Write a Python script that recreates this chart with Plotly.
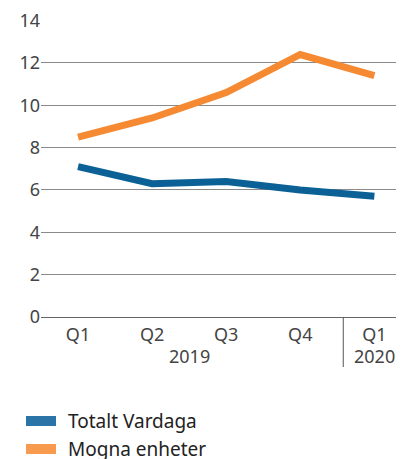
import plotly.graph_objects as go

quarters = ["Q1", "Q2", "Q3", "Q4", "Q1"]
years = ["2019", "2020"]
series_names = ["Totalt Vardaga", "Mogna enheter"]
totalt_vardaga = [7.1, 6.3, 6.4, 6.0, 5.7]
mogna_enheter = [8.5, 9.4, 10.6, 12.4, 11.4]
y_ticks = [0, 2, 4, 6, 8, 10, 12, 14]

line_colors = ["#0B6196", "#F58A33"]
swatch_colors = ["#2A74A8", "#F99B4E"]

OFF = 8  # page body margin
W, H = 404 - OFF, 459 - OFF
L, R, T, B = 41 - OFF, 0, 20 - OFF, 459 - 317
pw, ph = W - L - R, H - T - B

def px_x(px):
    return (px - OFF - L) / pw

def px_y(py):
    return (H - B - (py - OFF)) / ph

x = list(range(len(quarters)))
fig = go.Figure()
for name, vals, col in zip(series_names, [totalt_vardaga, mogna_enheter], line_colors):
    fig.add_trace(go.Scatter(x=x, y=vals, mode="lines", name=name,
                             line=dict(color=col, width=7), showlegend=False))

fam = "'Noto Sans', 'Open Sans', sans-serif"
font = dict(family=fam, color="#444444")

fig.update_layout(
    width=W, height=H,
    margin=dict(l=L, r=R, t=T, b=B),
    paper_bgcolor="white", plot_bgcolor="white",
    font=dict(size=18, **font),
    xaxis=dict(range=[-0.5, 4.4], tickvals=x, ticktext=quarters,
               showgrid=False, zeroline=False, showline=False, ticks="",
               ticklabelstandoff=5, ticklabeloverflow="allow",
               tickfont=dict(size=18, **font), fixedrange=True),
    yaxis=dict(range=[0, 14.03], tickvals=y_ticks, showgrid=True,
               gridcolor="#8a8a8a", gridwidth=1, zeroline=True,
               zerolinecolor="#666666", zerolinewidth=1.2, showline=False,
               ticks="", ticklabeloverflow="allow",
               tickfont=dict(size=18, **font), fixedrange=True),
)

# divider between years
fig.add_shape(type="line", xref="x", yref="paper", x0=3.58, x1=3.58,
              y0=0, y1=px_y(367), line=dict(color="#555555", width=1))

# year labels
for xv, yr in [(1.5, years[0]), (4, years[1])]:
    fig.add_annotation(x=xv, xref="x", y=px_y(356), yref="paper", text=yr,
                       showarrow=False, xanchor="center", yanchor="middle",
                       font=dict(size=18, **font))

# manual legend
for i, (name, col) in enumerate(zip(series_names, swatch_colors)):
    cy = 421 + i * 28
    fig.add_shape(type="rect", xref="paper", yref="paper",
                  x0=px_x(26), x1=px_x(56), y0=px_y(cy + 5), y1=px_y(cy - 5),
                  fillcolor=col, line=dict(width=0))
    fig.add_annotation(x=px_x(66), y=px_y(cy), xref="paper", yref="paper",
                       text=name, showarrow=False, xanchor="left", yanchor="middle",
                       font=dict(size=19, family=fam, color="#222222"))

fig.write_html("out.html")
